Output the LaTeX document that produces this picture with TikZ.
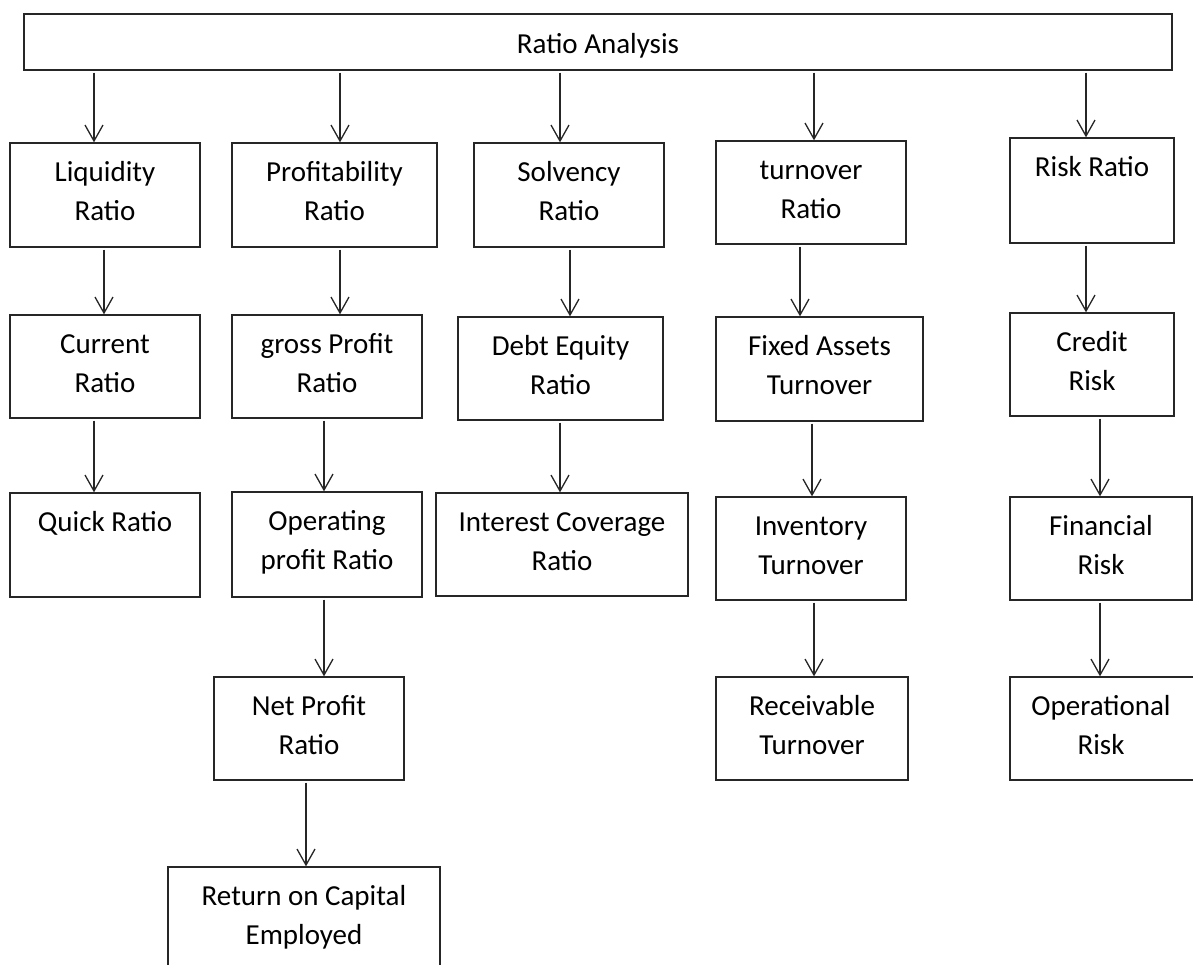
\documentclass[tikz,border=0pt]{standalone}
\usepackage{fontspec}
\setmainfont{Carlito}
\usetikzlibrary{arrows.meta,fit}
\begin{document}
\begin{tikzpicture}[x=1pt,y=-1pt,
  box/.style={draw=black!85, line width=1.3pt, rectangle, inner sep=0pt},
  lbl/.style={anchor=north, inner sep=0pt, align=center, text=black,
              font=\fontsize{29}{39.5}\selectfont},
  arr/.style={draw=black!85, line width=1.3pt, shorten <=2pt,
              -{Straight Barb[length=16pt,width=18pt,line width=1.3pt]}}]
\useasboundingbox (0,0) rectangle (1193,965);
\clip (0,0) rectangle (1193,965);
% boxes
\node[box, fit={(24,14) (1172,70)}] (top) {};
\node[box, fit={(10,143) (200,247)}] (liq) {};
\node[box, fit={(232,143) (437,247)}] (prof) {};
\node[box, fit={(474,143) (664,247)}] (solv) {};
\node[box, fit={(716,141) (906,244)}] (turn) {};
\node[box, fit={(1010,138) (1174,243)}] (risk) {};
\node[box, fit={(10,315) (200,418)}] (cur) {};
\node[box, fit={(232,315) (422,418)}] (gross) {};
\node[box, fit={(458,317) (663,420)}] (debt) {};
\node[box, fit={(716,317) (923,421)}] (fixed) {};
\node[box, fit={(1010,313) (1174,416)}] (credit) {};
\node[box, fit={(10,493) (200,597)}] (quick) {};
\node[box, fit={(232,492) (422,597)}] (oper) {};
\node[box, fit={(436,493) (688,596)}] (inter) {};
\node[box, fit={(716,497) (906,600)}] (inv) {};
\node[box, fit={(1010,497) (1192,600)}] (fin) {};
\node[box, fit={(214,677) (404,780)}] (net) {};
\node[box, fit={(716,677) (908,780)}] (recv) {};
\node[box, fit={(1010,677) (1210,780)}] (opr) {};
\node[box, fit={(168,867) (440,1000)}] (roce) {};
% labels
\node[lbl] (topT) at ([yshift=-16pt]top.north) {\rule{0pt}{24pt}Ratio Analysis};
\node[lbl] (liqT) at ([yshift=-14.5pt]liq.north) {\rule{0pt}{24pt}Liquidity\\Ratio};
\node[lbl] (profT) at ([yshift=-14.5pt]prof.north) {\rule{0pt}{24pt}Profitability\\Ratio};
\node[lbl] (solvT) at ([yshift=-14.5pt]solv.north) {\rule{0pt}{24pt}Solvency\\Ratio};
\node[lbl] (turnT) at ([yshift=-14.5pt]turn.north) {\rule{0pt}{24pt}turnover\\Ratio};
\node[lbl] (riskT) at ([yshift=-14.5pt]risk.north) {\rule{0pt}{24pt}Risk Ratio};
\node[lbl] (curT) at ([yshift=-14.5pt]cur.north) {\rule{0pt}{24pt}Current\\Ratio};
\node[lbl] (grossT) at ([yshift=-14.5pt]gross.north) {\rule{0pt}{24pt}gross Profit\\Ratio};
\node[lbl] (debtT) at ([yshift=-14.5pt]debt.north) {\rule{0pt}{24pt}Debt Equity\\Ratio};
\node[lbl] (fixedT) at ([yshift=-14.5pt]fixed.north) {\rule{0pt}{24pt}Fixed Assets\\Turnover};
\node[lbl] (creditT) at ([yshift=-14.5pt]credit.north) {\rule{0pt}{24pt}Credit\\Risk};
\node[lbl] (quickT) at ([yshift=-14.5pt]quick.north) {\rule{0pt}{24pt}Quick Ratio};
\node[lbl] (operT) at ([yshift=-14.5pt]oper.north) {\rule{0pt}{24pt}Operating\\profit Ratio};
\node[lbl] (interT) at ([yshift=-14.5pt]inter.north) {\rule{0pt}{24pt}Interest Coverage\\Ratio};
\node[lbl] (invT) at ([yshift=-14.5pt]inv.north) {\rule{0pt}{24pt}Inventory\\Turnover};
\node[lbl] (finT) at ([yshift=-14.5pt]fin.north -| 1101,0) {\rule{0pt}{24pt}Financial\\Risk};
\node[lbl] (netT) at ([yshift=-14.5pt]net.north) {\rule{0pt}{24pt}Net Profit\\Ratio};
\node[lbl] (recvT) at ([yshift=-14.5pt]recv.north) {\rule{0pt}{24pt}Receivable\\Turnover};
\node[lbl] (oprT) at ([yshift=-14.5pt]opr.north -| 1101,0) {\rule{0pt}{24pt}Operational\\Risk};
\node[lbl] (roceT) at ([yshift=-14.5pt]roce.north) {\rule{0pt}{24pt}Return on Capital\\Employed};
% connectors
\draw[arr] (top.south -| 94,0) -- (liq.north -| 94,0);
\draw[arr] (top.south -| 340,0) -- (prof.north -| 340,0);
\draw[arr] (top.south -| 560,0) -- (solv.north -| 560,0);
\draw[arr] (top.south -| 814,0) -- (turn.north -| 814,0);
\draw[arr] (top.south -| 1086,0) -- (risk.north -| 1086,0);
\draw[arr] (liq.south -| 104,0) -- (cur.north -| 104,0);
\draw[arr] (prof.south -| 340,0) -- (gross.north -| 340,0);
\draw[arr] (solv.south -| 570,0) -- (debt.north -| 570,0);
\draw[arr] (turn.south -| 800,0) -- (fixed.north -| 800,0);
\draw[arr] (risk.south -| 1086,0) -- (credit.north -| 1086,0);
\draw[arr] (cur.south -| 94,0) -- (quick.north -| 94,0);
\draw[arr] (gross.south -| 324,0) -- (oper.north -| 324,0);
\draw[arr] (debt.south -| 560,0) -- (inter.north -| 560,0);
\draw[arr] (fixed.south -| 812,0) -- (inv.north -| 812,0);
\draw[arr] (credit.south -| 1100,0) -- (fin.north -| 1100,0);
\draw[arr] (oper.south -| 324,0) -- (net.north -| 324,0);
\draw[arr] (inv.south -| 814,0) -- (recv.north -| 814,0);
\draw[arr] (fin.south -| 1100,0) -- (opr.north -| 1100,0);
\draw[arr] (net.south -| 306,0) -- (roce.north -| 306,0);
\end{tikzpicture}
\end{document}
